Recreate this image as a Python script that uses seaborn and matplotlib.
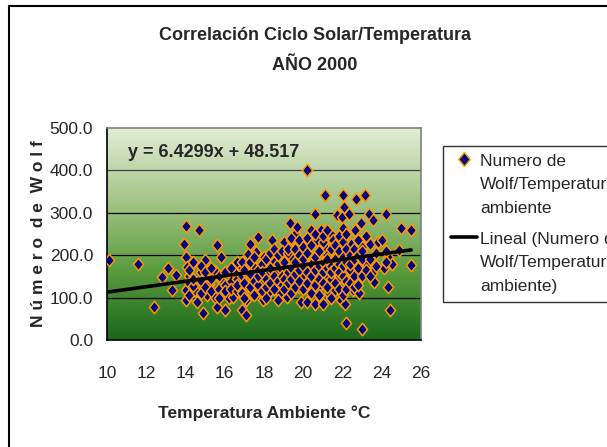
import matplotlib
matplotlib.use("Agg")
import matplotlib.pyplot as plt
import seaborn as sns
import numpy as np
import pandas as pd
from matplotlib.path import Path
from matplotlib.lines import Line2D
from matplotlib.legend_handler import HandlerLine2D
from matplotlib.colors import LinearSegmentedColormap

# Temperatura ambiente (°C) y Número de Wolf
temps_a = [10.1, 11.6, 12.4, 12.8, 13.1, 13.3, 13.5, 13.9, 14.0, 14.0,
           14.0, 14.05, 14.1, 14.2, 14.4, 14.5, 14.6, 14.7, 14.8, 14.9,
           15.0, 15.1, 15.2, 15.5, 15.5, 15.6, 15.6, 15.8, 15.8, 16.0,
           16.2, 16.4, 16.5, 16.6, 16.8, 16.9, 16.9, 17.1, 17.1, 17.2,
           17.2, 17.3, 17.4, 17.4, 17.5, 17.6, 17.7, 17.8, 17.9, 17.95,
           18.0, 18.2, 18.2, 18.4, 18.5, 18.6, 18.7, 18.8, 19.0, 19.1,
           19.15, 19.2, 19.3, 19.4, 19.4, 19.5, 19.6, 19.7, 19.75, 19.8,
           19.9, 20.0, 20.1, 20.2, 20.2, 20.3, 20.4, 20.5, 20.6, 20.6,
           20.7, 20.75, 20.9, 20.9, 21.0, 21.1, 21.1, 21.2, 21.3, 21.4,
           21.5, 21.5, 21.6, 21.7, 21.7, 21.8, 21.9, 21.95, 22.0, 22.1,
           22.1, 22.15, 22.2, 22.3, 22.35, 22.45, 22.55, 22.65, 22.7, 22.75,
           22.85, 22.95, 23.0, 23.0, 23.0, 23.15, 23.25, 23.35, 23.4, 23.5,
           23.55, 23.6, 23.8, 24.0, 24.1, 24.2, 24.3, 24.3, 24.4, 24.5,
           24.9, 25.0, 25.5, 25.5]
wolf_a = [188, 180, 78, 149, 170, 118, 153, 226, 268, 196,
          118, 94, 173, 106, 184, 118, 90, 260, 161, 63,
          188, 106, 133, 163, 102, 225, 78, 141, 196, 71,
          98, 102, 157, 184, 133, 169, 71, 59, 94, 125,
          204, 227, 110, 149, 173, 208, 243, 118, 141, 94,
          196, 173, 110, 235, 184, 125, 157, 110, 231, 173,
          102, 149, 275, 196, 235, 149, 251, 267, 188, 125,
          90, 149, 204, 90, 400, 141, 259, 188, 298, 86,
          235, 125, 259, 173, 86, 220, 341, 149, 110, 251,
          188, 235, 118, 294, 204, 149, 94, 290, 341, 314,
          251, 86, 39, 173, 298, 227, 118, 259, 333, 141,
          110, 275, 220, 173, 27, 341, 180, 298, 227, 157,
          282, 137, 231, 235, 169, 298, 196, 125, 71, 180,
          212, 263, 259, 178]

# nube densa central
temps_b = [14.2, 14.2, 14.2, 14.4, 14.4, 14.8, 14.8, 14.8, 15.0, 15.0,
           15.3, 15.3, 15.3, 15.7, 15.7, 15.7, 16.0, 16.0, 16.0, 16.3,
           16.3, 16.3, 16.6, 16.6, 16.6, 16.9, 16.9, 16.9, 17.0, 17.0,
           17.0, 17.3, 17.3, 17.3, 17.5, 17.5, 17.5, 17.7, 17.7, 17.7,
           17.9, 17.9, 17.9, 18.1, 18.1, 18.1, 18.1, 18.3, 18.3, 18.3,
           18.3, 18.5, 18.5, 18.5, 18.7, 18.7, 18.7, 18.7, 18.9, 18.9,
           18.9, 18.9, 19.0, 19.0, 19.0, 19.2, 19.2, 19.2, 19.2, 19.4,
           19.4, 19.4, 19.4, 19.6, 19.6, 19.6, 19.6, 19.8, 19.8, 19.8,
           19.8, 20.0, 20.0, 20.0, 20.0, 20.2, 20.2, 20.2, 20.2, 20.4,
           20.4, 20.4, 20.4, 20.6, 20.6, 20.6, 20.6, 20.8, 20.8, 20.8,
           20.8, 21.0, 21.0, 21.0, 21.0, 21.0, 21.2, 21.2, 21.2, 21.2,
           21.2, 21.4, 21.4, 21.4, 21.4, 21.4, 21.6, 21.6, 21.6, 21.6,
           21.8, 21.8, 21.8, 21.8, 21.8, 22.0, 22.0, 22.0, 22.0, 22.0,
           22.0, 22.2, 22.2, 22.2, 22.2, 22.2, 22.4, 22.4, 22.4, 22.4,
           22.6, 22.6, 22.6, 22.6, 22.8, 22.8, 22.8, 22.8, 23.0, 23.0,
           23.0, 23.2, 23.2, 23.4, 23.4, 23.7, 23.7, 24.2, 24.2]
wolf_b = [150, 135, 165, 128, 145, 140, 110, 175, 125, 160,
          145, 115, 170, 120, 150, 100, 130, 160, 115, 140,
          170, 120, 115, 145, 130, 150, 110, 185, 135, 165,
          100, 185, 155, 125, 140, 105, 195, 165, 130, 150,
          180, 115, 160, 145, 125, 190, 100, 160, 135, 205,
          170, 120, 150, 215, 180, 140, 200, 95, 165, 130,
          210, 150, 145, 185, 120, 205, 160, 135, 215, 170,
          110, 145, 240, 185, 155, 125, 215, 200, 165, 140,
          235, 175, 120, 220, 190, 160, 135, 240, 205, 180,
          150, 110, 225, 195, 165, 130, 250, 210, 145, 175,
          105, 185, 160, 230, 135, 245, 200, 170, 125, 260,
          190, 175, 145, 215, 100, 160, 190, 225, 135, 170,
          210, 180, 245, 120, 160, 195, 150, 230, 105, 175,
          265, 185, 140, 215, 120, 250, 200, 165, 135, 180,
          215, 150, 190, 125, 235, 170, 200, 130, 190, 150,
          210, 165, 245, 190, 150, 205, 175, 210, 185]

# línea de tendencia (ecuación mostrada en el gráfico)
slope = 6.4299
intercept = 48.517
x_ticks = [10, 12, 14, 16, 18, 20, 22, 24, 26]
y_ticks = [0, 100, 200, 300, 400, 500]

df = pd.DataFrame({"temp": temps_a + temps_b, "wolf": wolf_a + wolf_b})

sns.set_style("white")
plt.rcParams['font.family'] = ['Liberation Sans', 'DejaVu Sans']


# sube el símbolo de la leyenda a la primera línea del texto
class UpHandler(HandlerLine2D):
    def __init__(self, dy, **kw):
        super().__init__(**kw)
        self.dy = dy

    def create_artists(self, legend, orig_handle, xdescent, ydescent,
                       width, height, fontsize, trans):
        return super().create_artists(legend, orig_handle, xdescent,
                                      ydescent - 2 * self.dy, width, height,
                                      fontsize, trans)


W, H = 607, 447
fig = plt.figure(figsize=(W / 100, H / 100), dpi=100)
ax = fig.add_axes([107 / W, 1 - 340 / H, 314 / W, 212 / H])

# fondo degradado verde
cmap = LinearSegmentedColormap.from_list("g", ["#1a681a", "#5c9c40", "#a6c689", "#e2ecd6"])
grad = np.linspace(0, 1, 256).reshape(-1, 1)
ax.imshow(grad, extent=[10, 26, 0, 500], origin="lower", aspect="auto", cmap=cmap, zorder=0)

for yv in y_ticks[1:-1]:
    ax.axhline(yv, color="black" if yv < 400 else "#404040", lw=0.9, zorder=1)

diamond = Path([(0, 1), (0.82, 0), (0, -1), (-0.82, 0), (0, 1)],
               [Path.MOVETO, Path.LINETO, Path.LINETO, Path.LINETO, Path.CLOSEPOLY])

sns.scatterplot(data=df, x="temp", y="wolf", marker=diamond, s=80, color="#000080",
                edgecolor="#ff9900", linewidth=1.1, ax=ax, zorder=3, legend=False)

trend = pd.DataFrame({"temp": [df.temp.min(), df.temp.max()]})
trend["wolf"] = slope * trend.temp + intercept
sns.lineplot(data=trend, x="temp", y="wolf", color="black", lw=2.6, ax=ax, zorder=4)

ax.set_xlim(10, 26)
ax.set_ylim(0, 500)
ax.set_xticks(x_ticks)
ax.set_yticks(y_ticks)
ax.set_yticklabels([f"{v:.1f}" for v in y_ticks])
ax.tick_params(axis="both", labelsize=12.5, length=5, width=1, color="black", direction="out")
ax.tick_params(axis="x", pad=14)
ax.tick_params(axis="y", pad=5)
for side in ["top", "right"]:
    ax.spines[side].set_color("#808080")
for side in ["left", "bottom"]:
    ax.spines[side].set_color("black")
for sp in ax.spines.values():
    sp.set_linewidth(1.2)
    sp.set_visible(True)

ax.set_xlabel("Temperatura Ambiente °C", fontsize=12.5, fontweight="bold")
ax.xaxis.set_label_coords(0.5, -(413 - 340) / 212, transform=ax.transAxes)
ax.xaxis.label.set_va("center")
ax.set_ylabel("N ú m e r o  d e  W o l f", fontsize=12.5, fontweight="bold")
ax.yaxis.set_label_coords((46 - 107) / 314, 0.5)

ax.text(11.05, 443, f"y = {slope}x + {intercept}", fontsize=13, fontweight="bold",
        va="center", ha="left", zorder=5)

fig.text(315 / W, 1 - 36 / H, "Correlación Ciclo Solar/Temperatura",
         ha="center", va="center", fontsize=13, fontweight="bold")
fig.text(315 / W, 1 - 65 / H, "AÑO 2000",
         ha="center", va="center", fontsize=13, fontweight="bold")

# marco exterior del gráfico
fig.add_artist(Line2D([9 / W, 9 / W], [0, 1 - 6 / H], color="black", lw=1.5))
fig.add_artist(Line2D([9 / W, 1], [1 - 6 / H, 1 - 6 / H], color="black", lw=1.5))

fs_leg = 12.5
ls_leg = 1.72
h_pts = Line2D([], [], marker=diamond, ls="none", ms=10, mfc="#000080",
               mec="#ff9900", mew=1.1)
h_line = Line2D([], [], color="black", lw=2.6)
labels = ["Numero de\nWolf/Temperatura\nambiente",
          "Lineal (Numero de\nWolf/Temperatura\nambiente)"]
leg = fig.legend([h_pts, h_line], labels, loc="upper left",
                 bbox_to_anchor=(443 / W, 1 - 146 / H),
                 handler_map={h_pts: UpHandler(fs_leg * ls_leg * 0.87),
                              h_line: UpHandler(fs_leg * ls_leg * 0.87)},
                 fontsize=fs_leg, frameon=True, fancybox=False, edgecolor="black",
                 borderaxespad=0, borderpad=0.45, handlelength=1.5, handletextpad=0.2,
                 labelspacing=0.9)
leg.get_frame().set_linewidth(1.0)
for t in leg.get_texts():
    t.set_linespacing(ls_leg)

plt.savefig("out.png", dpi=100)
